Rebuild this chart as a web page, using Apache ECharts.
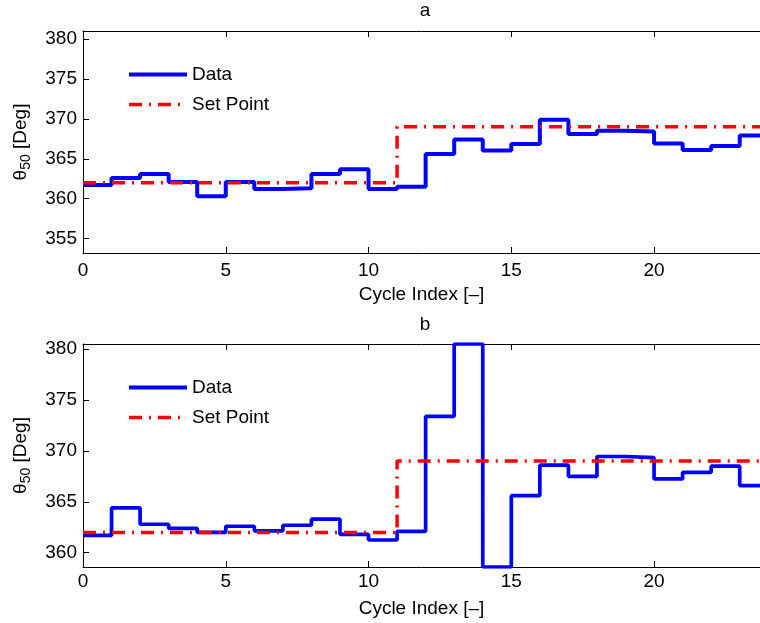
<!DOCTYPE html>
<html>
<head>
<meta charset="utf-8">
<script src="https://cdn.jsdelivr.net/npm/echarts@6/dist/echarts.min.js"></script>
<style>
html,body{margin:0;padding:0;background:#fff;}
#chart{width:760px;height:623px;}
</style>
</head>
<body>
<div id="chart"></div>
<script>
// Cycle-indexed step data (value held from cycle i to i+1)
const dataA = [361.7, 362.6, 363.1, 362.1, 360.3, 362.1, 361.2, 361.3, 363.1, 363.7, 361.2, 361.5,
               365.6, 367.4, 366.05, 366.85, 369.9, 368.1, 368.5, 368.4, 366.9, 366.1, 366.6, 367.9];
const dataB = [361.7, 364.4, 362.8, 362.4, 362.0, 362.6, 362.15, 362.7, 363.3, 361.8, 361.25, 362.1,
               373.4, 380.5, 358.6, 365.6, 368.6, 367.5, 369.45, 369.35, 367.25, 367.9, 368.5, 366.6];
const setPoint = [362, 362, 362, 362, 362, 362, 362, 362, 362, 362, 362,
                  369, 369, 369, 369, 369, 369, 369, 369, 369, 369, 369, 369, 369];
const xRange = [0, 23.71];
const xTicks = [0, 5, 10, 15, 20];
const yRangeA = [353.2, 381];
const yTicksA = [355, 360, 365, 370, 375, 380];
const yRangeB = [358.6, 380.5];
const yTicksB = [360, 365, 370, 375, 380];
const titles = ['a', 'b'];
const seriesNames = ['Data', 'Set Point'];
const xLabel = 'Cycle Index [\u2013]';

function stairs(arr) {
  const pts = arr.map((v, i) => [i, v]);
  pts.push([arr.length, arr[arr.length - 1]]);
  return pts;
}

const FONT = "'Liberation Sans', Arial, Helvetica, sans-serif";
const FS = 19;
const DATA_W = [4, 3.7];
const SP_W = 3.5;
const SP_DASH = [13, 7, 2, 7];
const grids = [
  {left: 83, top: 31, right: 0, height: 222},
  {left: 83, top: 344, right: 0, height: 223}
];

const chart = echarts.init(document.getElementById('chart'), null, {renderer: 'canvas'});

const axisLine = {show: true, lineStyle: {color: '#000', width: 1}};
const tick = {show: true, inside: true, length: 6, lineStyle: {color: '#000', width: 1}};

const xAxes = [];
const yAxes = [];
[0, 1].forEach(g => {
  xAxes.push({
    type: 'value', gridIndex: g, position: 'bottom', min: xRange[0], max: xRange[1], interval: 5,
    axisLine: axisLine, axisTick: Object.assign({}, tick, {customValues: xTicks}), splitLine: {show: false},
    axisLabel: {color: '#000', fontSize: FS, fontFamily: FONT, margin: g === 0 ? 8 : 5,
      customValues: xTicks},
    name: xLabel, nameLocation: 'middle', nameGap: 32,
    nameTextStyle: {color: '#000', fontSize: FS, fontFamily: FONT}
  });
  xAxes.push({
    type: 'value', gridIndex: g, position: 'top', min: xRange[0], max: xRange[1], interval: 5,
    axisLine: axisLine, axisTick: Object.assign({}, tick, {customValues: xTicks}), splitLine: {show: false},
    axisLabel: {show: false}
  });
  const yr = g === 0 ? yRangeA : yRangeB;
  const yt = g === 0 ? yTicksA : yTicksB;
  yAxes.push({
    type: 'value', gridIndex: g, position: 'left', min: yr[0], max: yr[1],
    axisLine: axisLine,
    axisTick: Object.assign({}, tick, {customValues: yt}),
    splitLine: {show: false},
    axisLabel: {color: '#000', fontSize: FS, fontFamily: FONT, margin: 6, customValues: yt},
    name: '{t|\u03B8}{s|50}{t| [Deg]}', nameLocation: 'middle', nameGap: 50,
    nameTextStyle: {color: '#000', fontSize: FS, fontFamily: FONT,
      rich: {
        t: {fontSize: FS, fontFamily: FONT, color: '#000'},
        s: {fontSize: 14, fontFamily: FONT, color: '#000', padding: [10, 0, 0, 0]}
      }}
  });
});

const series = [];
[dataA, dataB].forEach((d, g) => {
  series.push({
    name: seriesNames[0], type: 'line', step: 'end', symbol: 'none',
    xAxisIndex: g * 2, yAxisIndex: g, data: stairs(d), color: '#0000ff',
    lineStyle: {color: '#0000ff', width: DATA_W[g]}, z: 2, clip: true
  });
  series.push({
    name: seriesNames[1], type: 'line', step: 'end', symbol: 'none',
    xAxisIndex: g * 2, yAxisIndex: g, data: stairs(setPoint), color: '#ff0000',
    lineStyle: {color: '#ff0000', width: SP_W, type: SP_DASH, cap: 'butt'}, z: 3, clip: true
  });
});

const legendCommon = {
  orient: 'vertical', itemWidth: 58, itemHeight: 14, itemGap: 11, selectedMode: false,
  padding: 0,
  itemStyle: {color: 'rgba(0,0,0,0)', borderWidth: 0, opacity: 0},
  textStyle: {color: '#000', fontSize: FS, fontFamily: FONT},
  data: [
    {name: seriesNames[0], lineStyle: {color: '#0000ff', width: 4, type: 'solid'}},
    {name: seriesNames[1], lineStyle: {color: '#ff0000', width: SP_W, type: SP_DASH, cap: 'butt'}}
  ]
};

chart.setOption({
  animation: false,
  backgroundColor: '#fff',
  textStyle: {fontFamily: FONT},
  title: [
    {text: titles[0], left: 425, top: 1, textAlign: 'center', padding: 0,
      textStyle: {fontSize: FS, fontWeight: 'normal', color: '#000', fontFamily: FONT}},
    {text: titles[1], left: 425, top: 315, textAlign: 'center', padding: 0,
      textStyle: {fontSize: FS, fontWeight: 'normal', color: '#000', fontFamily: FONT}}
  ],
  legend: [
    Object.assign({}, legendCommon, {left: 127, top: 65}),
    Object.assign({}, legendCommon, {left: 127, top: 378})
  ],
  grid: grids,
  xAxis: xAxes,
  yAxis: yAxes,
  series: series
});
</script>
</body>
</html>
